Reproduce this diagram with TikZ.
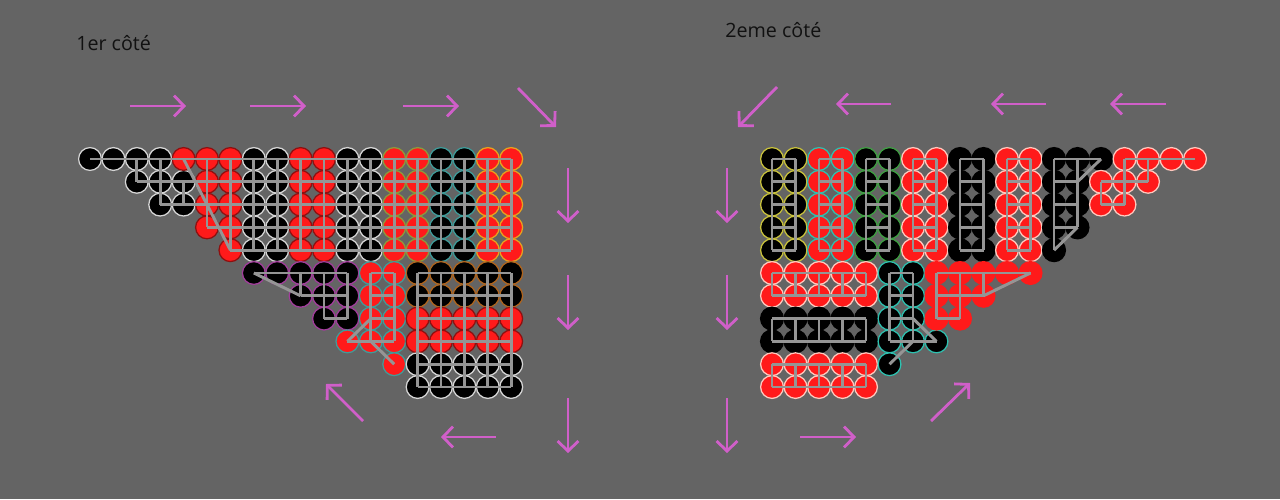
\documentclass[tikz,border=0pt]{standalone}
\usepackage{fontspec}
\newfontfamily\labelfont{Open Sans}
\usetikzlibrary{arrows.meta}
\definecolor{bggray}{HTML}{646464}
\definecolor{beadred}{HTML}{FF1A1A}
\definecolor{yarngray}{HTML}{959595}
\definecolor{rimwhite}{HTML}{D6D6D6}
\definecolor{rimdark}{HTML}{8E1010}
\definecolor{rimolive}{HTML}{8C9A3C}
\definecolor{rimteal}{HTML}{3F9C9A}
\definecolor{rimorange}{HTML}{E8A21E}
\definecolor{rimpurple}{HTML}{A23E9C}
\definecolor{rimbrown}{HTML}{B0651E}
\definecolor{rimyellow}{HTML}{C9C23C}
\definecolor{rimgreen}{HTML}{3FA043}
\definecolor{rimpink}{HTML}{FFC9BE}
\definecolor{rimcyan}{HTML}{2EC1B0}
\definecolor{arrowpink}{HTML}{D05FC9}
\definecolor{textdark}{HTML}{111111}
% one row of beads, left side / right side
\newcommand{\lbeads}[3]{\foreach \k in {#2}{\node[#3] (l-#1-\k) at ({90+23.4*\k},{159+22.8*#1}) {};}}
\newcommand{\rbeads}[3]{\foreach \k in {#2}{\node[#3] (r-#1-\k) at ({772+23.5*\k},{159+22.8*#1}) {};}}

\begin{document}
\begin{tikzpicture}[
    x=0.025cm, y=-0.025cm,
    bead/.style={circle, inner sep=0pt, minimum size=0.57cm, line width=0.9pt},
    blk/.style={bead, fill=black, draw=#1}, blk/.default=rimwhite,
    rd/.style={bead, fill=beadred, draw=#1}, rd/.default=rimdark,
    yarn/.style={draw=yarngray, line width=2.1pt},
    arr/.style={draw=arrowpink, line width=2pt, -{Straight Barb[length=2.5mm,width=5.2mm]}},
    lbl/.style={font=\labelfont\fontsize{14}{16}\selectfont, text=textdark, inner sep=0pt}
]
\fill[bggray] (0,0) rectangle (1280,499);
\useasboundingbox (0,0) rectangle (1280,499);

% Titles
\node[lbl, anchor=west] (side1) at (76,43) {1er côté};
\node[lbl, anchor=west] (side2) at (725,30) {2eme côté};

% 1er cote, top block
\lbeads{0}{0,...,3}{blk}
\lbeads{1}{2,3,4}{blk}
\lbeads{2}{3,4}{blk}
\lbeads{0}{4,5,6}{rd}
\lbeads{1}{5,6}{rd}
\lbeads{2}{5,6}{rd}
\lbeads{3}{5,6}{rd}
\lbeads{4}{6}{rd}
\foreach \r in {0,...,4}{
  \lbeads{\r}{7,8}{blk}
  \lbeads{\r}{9,10}{rd}
  \lbeads{\r}{11,12}{blk}
  \lbeads{\r}{13,14}{rd=rimolive}
  \lbeads{\r}{15,16}{blk=rimteal}
  \lbeads{\r}{17,18}{rd=rimorange}
}

% 1er cote, lower block
\lbeads{5}{7,...,11}{blk=rimpurple}
\lbeads{6}{9,10,11}{blk=rimpurple}
\lbeads{7}{10,11}{blk=rimpurple}
\lbeads{5}{12,13}{rd=rimteal}
\lbeads{6}{12,13}{rd=rimteal}
\lbeads{7}{12,13}{rd=rimteal}
\lbeads{8}{11,12,13}{rd=rimteal}
\lbeads{9}{13}{rd=rimteal}
\foreach \r in {5,6} {\lbeads{\r}{14,...,18}{blk=rimbrown}}
\foreach \r in {7,8} {\lbeads{\r}{14,...,18}{rd}}
\foreach \r in {9,10} {\lbeads{\r}{14,...,18}{blk}}

% 2eme cote, top block
\foreach \r in {0,...,4}{
  \rbeads{\r}{0,1}{blk=rimyellow}
  \rbeads{\r}{2,3}{rd=rimcyan}
  \rbeads{\r}{4,5}{blk=rimgreen}
  \rbeads{\r}{6,7}{rd=rimpink}
  \rbeads{\r}{8,9}{blk=black}
  \rbeads{\r}{10,11}{rd=rimpink}
}
\rbeads{0}{12,13,14}{blk=black}
\rbeads{1}{12,13}{blk=black}
\rbeads{2}{12,13}{blk=black}
\rbeads{3}{12,13}{blk=black}
\rbeads{4}{12}{blk=black}
\rbeads{0}{15,...,18}{rd=rimpink}
\rbeads{1}{14,15,16}{rd=rimpink}
\rbeads{2}{14,15}{rd=rimpink}

% 2eme cote, lower block
\foreach \r in {5,6} {\rbeads{\r}{0,...,4}{rd=rimpink}}
\foreach \r in {7,8} {\rbeads{\r}{0,...,4}{blk=black}}
\foreach \r in {9,10} {\rbeads{\r}{0,...,4}{rd=rimpink}}
\rbeads{5}{5,6}{blk=rimcyan}
\rbeads{6}{5,6}{blk=rimcyan}
\rbeads{7}{5,6}{blk=rimcyan}
\rbeads{8}{5,6,7}{blk=rimcyan}
\rbeads{9}{5}{blk=rimcyan}
\rbeads{5}{7,...,11}{rd=beadred}
\rbeads{6}{7,8,9}{rd=beadred}
\rbeads{7}{7,8}{rd=beadred}

% thread, 1er cote
\foreach \r/\a in {0/0,1/2,2/3,3/5,4/6} {\draw[yarn] (l-\r-\a.center) -- (l-\r-18.center);}
\foreach \k/\a/\b in {2/0/1,3/0/2,4/1/2,5/0/3} {\draw[yarn] (l-\a-\k.center) -- (l-\b-\k.center);}
\foreach \k in {6,...,18} {\draw[yarn] (l-0-\k.center) -- (l-4-\k.center);}
\draw[yarn] (l-0-4.center) -- (l-4-6.center);
\foreach \r/\a/\b in {5/7/11,6/9/11,7/10/11,5/12/13,6/12/13,7/12/13,8/11/13} {\draw[yarn] (l-\r-\a.center) -- (l-\r-\b.center);}
\foreach \k/\a/\b in {9/5/6,10/5/7,11/5/7,12/5/8,13/5/8} {\draw[yarn] (l-\a-\k.center) -- (l-\b-\k.center);}
\draw[yarn] (l-5-7.center) -- (l-6-9.center);
\draw[yarn] (l-8-11.center) -- (l-7-12.center);
\draw[yarn] (l-8-12.center) -- (l-9-13.center);
\foreach \r in {5,...,10} {\draw[yarn] (l-\r-14.center) -- (l-\r-18.center);}
\foreach \k in {14,...,18} {\draw[yarn] (l-5-\k.center) -- (l-10-\k.center);}

% thread, 2eme cote
\foreach \a/\b in {0/1,2/3,4/5,6/7,8/9,10/11}{
  \draw[yarn] (r-0-\a.center) -- (r-4-\a.center);
  \draw[yarn] (r-0-\b.center) -- (r-4-\b.center);
  \foreach \r in {0,...,4} {\draw[yarn] (r-\r-\a.center) -- (r-\r-\b.center);}
}
\foreach \r/\a/\b in {0/12/14,1/12/13,2/12/13,3/12/13,0/15/18,1/14/16,2/14/15} {\draw[yarn] (r-\r-\a.center) -- (r-\r-\b.center);}
\foreach \k/\a/\b in {12/0/4,13/0/3,15/0/2,16/0/1,14/1/2} {\draw[yarn] (r-\a-\k.center) -- (r-\b-\k.center);}
\draw[yarn] (r-1-13.center) -- (r-0-14.center);
\draw[yarn] (r-4-12.center) -- (r-3-13.center);
\foreach \r in {5,...,10} {\draw[yarn] (r-\r-0.center) -- (r-\r-4.center);}
\foreach \k in {0,...,4} {\foreach \a/\b in {5/6,7/8,9/10} {\draw[yarn] (r-\a-\k.center) -- (r-\b-\k.center);}}
\foreach \r/\a/\b in {5/5/6,6/5/6,7/5/6,8/5/7,5/7/11,6/7/9,7/7/8} {\draw[yarn] (r-\r-\a.center) -- (r-\r-\b.center);}
\foreach \k/\a/\b in {5/5/8,6/5/8,7/5/7,8/5/7,9/5/6} {\draw[yarn] (r-\a-\k.center) -- (r-\b-\k.center);}
\draw[yarn] (r-9-5.center) -- (r-8-6.center);
\draw[yarn] (r-7-6.center) -- (r-8-7.center);
\draw[yarn] (r-6-9.center) -- (r-5-11.center);

% direction arrows, 1er cote
\draw[arr] (130,106) -- (186,106);
\draw[arr] (250,106) -- (306,106);
\draw[arr] (403,106) -- (459,106);
\draw[arr] (518,88) -- (556,127);
\draw[arr] (568,168) -- (568,223);
\draw[arr] (568,275) -- (568,330);
\draw[arr] (568,398) -- (568,453);
\draw[arr] (496,437) -- (441,437);
\draw[arr] (363,421) -- (326,384);

% direction arrows, 2eme cote
\draw[arr] (777,87) -- (738,127);
\draw[arr] (891,104) -- (836,104);
\draw[arr] (1046,104) -- (991,104);
\draw[arr] (1166,104) -- (1110,104);
\draw[arr] (727,168) -- (727,223);
\draw[arr] (727,275) -- (727,330);
\draw[arr] (727,398) -- (727,453);
\draw[arr] (800,437) -- (856,437);
\draw[arr] (931,421) -- (970,383);
\end{tikzpicture}
\end{document}
